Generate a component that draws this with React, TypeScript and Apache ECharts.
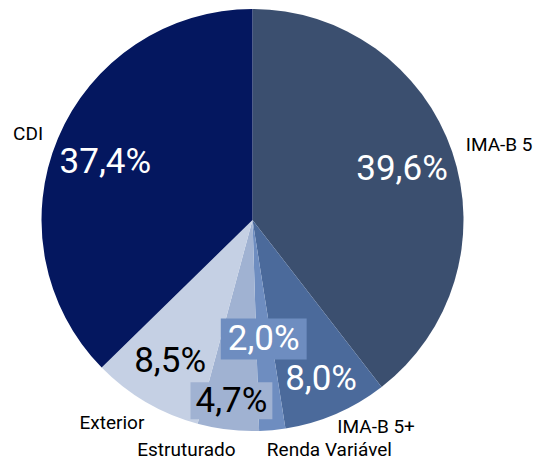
import React, { useEffect, useRef } from 'react';
import * as echarts from 'echarts';

const categories = ['IMA-B 5', 'IMA-B 5+', 'Renda Variável', 'Estruturado', 'Exterior', 'CDI'];
const shares = [39.6, 8.0, 2.0, 4.7, 8.5, 37.4];

const sliceColors = ['#3b4f6f', '#4b6a9b', '#6e8dc0', '#a0b2d2', '#c5d0e4', '#04175f'];
const valueTextColors = ['#ffffff', '#ffffff', '#ffffff', '#000000', '#000000', '#ffffff'];
const valueBoxes = [null, null, [2, 7], [0, 5], null, null];

const CX = 252.5;
const CY = 220;
const R = 211;
// [distance from centre in px, angular shift in degrees] for each label
const valuePlace = [[158, 0], [173, 0], [119.5, 0], [182, 0], [163, 0], [158.5, -1]];
const namePlace = [[258, 1.8], [241, -7.5], [242.5, -13.1], [239, 9.4], [246.5, 4.4], [240.6, -1.7]];

const fmt = (v: number) => v.toFixed(1).replace('.', ',') + '%';

const placer = (table: number[][]) => (params: any) => {
  const i = params.dataIndex;
  const r = params.labelRect;
  const x0 = r.x + r.width / 2 - CX;
  const y0 = r.y + r.height / 2 - CY;
  const a = Math.atan2(x0, -y0) + (table[i][1] * Math.PI) / 180;
  const d = table[i][0];
  return {
    x: CX + d * Math.sin(a),
    y: CY - d * Math.cos(a),
    align: 'center',
    verticalAlign: 'middle',
  };
};

export default function App() {
  const ref = useRef<HTMLDivElement>(null);
  useEffect(() => {
    if (!ref.current) return;
    const chart = echarts.init(ref.current, undefined, { renderer: 'svg' });
    const valueData = categories.map((name, i) => {
      const box = valueBoxes[i];
      return {
        name,
        value: shares[i],
        itemStyle: { color: sliceColors[i] },
        label: {
          color: valueTextColors[i],
          ...(box
            ? { backgroundColor: sliceColors[i], padding: box, lineHeight: 37 }
            : {}),
        },
      };
    });
    const nameData = categories.map((name, i) => ({ name, value: shares[i] }));
    chart.setOption({
      animation: false,
      backgroundColor: '#ffffff',
      series: [
        {
          type: 'pie',
          center: [CX, CY],
          radius: [0, R],
          startAngle: 90,
          clockwise: true,
          silent: true,
          data: valueData,
          label: {
            show: true,
            position: 'inside',
            fontFamily: 'Roboto',
            fontSize: 35,
            formatter: (p: any) => fmt(p.value),
          },
          labelLine: { show: false },
          labelLayout: placer(valuePlace),
        },
        {
          type: 'pie',
          center: [CX, CY],
          radius: [0, R],
          startAngle: 90,
          clockwise: true,
          silent: true,
          z: 3,
          data: nameData,
          itemStyle: { color: 'rgba(0,0,0,0)' },
          label: {
            show: true,
            position: 'inside',
            fontFamily: 'Roboto',
            fontSize: 19,
            color: '#000000',
            formatter: (p: any) => p.name,
          },
          labelLine: { show: false },
          labelLayout: placer(namePlace),
        },
      ],
    });
    return () => chart.dispose();
  }, []);
  return (
    <div
      ref={ref}
      style={{ position: 'fixed', left: 0, top: 0, width: 544, height: 460 }}
    />
  );
}
